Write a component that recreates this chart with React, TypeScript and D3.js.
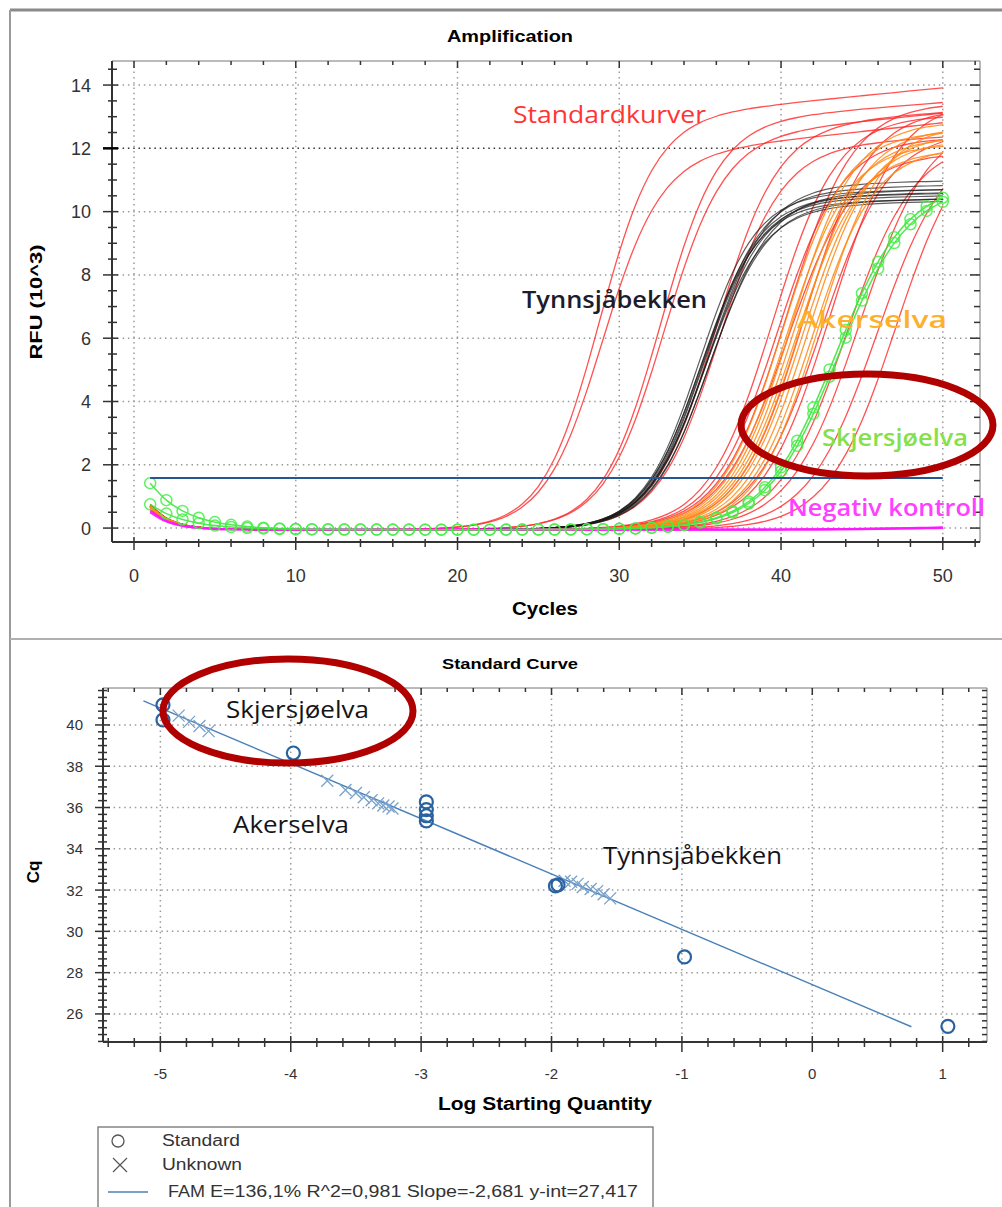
import * as d3 from "d3";

// amplification plot: cycle numbers and RFU axis
const cycles = d3.range(1, 51);
const rfuTicks = [0, 2, 4, 6, 8, 10, 12, 14];
const cycleTicks = [0, 10, 20, 30, 40, 50];
const threshold = 1.58;

// each curve: [midpoint cycle, steepness, plateau (10^3 RFU), late drift, RFU at cycle 1]
const standardCurves = [
  [28.74, 1.75, 12.9, 0.05, 0.75],
  [28.94, 1.8, 11.7, 0.055, 0.7],
  [32.53, 1.8, 12.8, 0.04, 0.72],
  [32.74, 1.85, 12.3, 0.05, 0.65],
  [36.0, 1.9, 12.7, 0.035, 0.7],
  [36.18, 1.9, 12.0, 0.03, 0.6],
  [39.47, 2.0, 13.1, 0, 0.7],
  [39.75, 2.0, 12.4, 0, 0.65],
  [40.34, 2.05, 13.5, 0, 0.72],
  [40.35, 2.05, 11.9, 0, 0.6],
  [41.41, 2.0, 13.3, 0, 0.7],
  [42.48, 2.1, 12.6, 0, 0.62],
  [43.06, 2.1, 13.6, 0, 0.7],
  [44.02, 2.1, 12.3, 0, 0.66],
  [44.85, 2.15, 13.0, 0, 0.7],
  [45.94, 2.15, 12.4, 0, 0.6],
  [47.1, 2.1, 12.8, 0, 0.68],
];
const tynnsjaCurves = [
  [34.95, 1.75, 10.6, 0.01, 0.7],
  [35.05, 1.78, 10.3, 0.01, 0.65],
  [35.1, 1.8, 10.5, 0.008, 0.7],
  [35.2, 1.76, 10.4, 0.01, 0.6],
  [35.25, 1.8, 10.7, 0.012, 0.7],
  [35.3, 1.82, 10.2, 0.012, 0.65],
  [35.4, 1.8, 10.5, 0.01, 0.7],
  [35.5, 1.85, 10.9, 0.008, 0.6],
  [35.55, 1.8, 10.3, 0.01, 0.65],
  [35.65, 1.85, 10.6, 0.01, 0.7],
];
const akerselvaCurves = [
  [40.09, 1.95, 12.6, 0, 0.7],
  [40.32, 1.95, 12.2, 0, 0.65],
  [40.64, 1.95, 12.9, 0, 0.7],
  [40.75, 1.95, 12.4, 0, 0.6],
  [40.88, 1.95, 12.0, 0, 0.7],
  [41.2, 1.95, 12.7, 0, 0.65],
  [41.33, 1.95, 12.3, 0, 0.7],
  [41.67, 1.95, 12.5, 0, 0.6],
  [41.9, 1.95, 12.1, 0, 0.68],
  [42.32, 1.95, 12.8, 0, 0.65],
];
const skjersjoCurves = [
  [43.35, 2.2, 11.0, 0, 1.42],
  [43.5, 2.2, 10.9, 0, 0.75],
];
const negativeCurves = [
  [49.0, 3.0, 0.12, 0, 0.55],
  [49.5, 3.0, 0.1, 0, 0.5],
];

// standard curve plot
const cqTicks = [26, 28, 30, 32, 34, 36, 38, 40];
const logTicks = [-5, -4, -3, -2, -1, 0, 1];
const standardPoints = [
  [-4.98, 40.97], [-4.98, 40.24], [-3.98, 38.64],
  [-2.96, 36.27], [-2.96, 35.9], [-2.96, 35.6], [-2.96, 35.35],
  [-1.97, 32.2], [-1.95, 32.25], [-0.98, 28.76], [1.04, 25.4],
];
const unknownSkjersjo = [[-4.86, 40.45], [-4.78, 40.15], [-4.7, 39.95], [-4.63, 39.7]];
const unknownAkerselva = [
  [-3.72, 37.3], [-3.58, 36.85], [-3.5, 36.7], [-3.44, 36.5], [-3.38, 36.35],
  [-3.33, 36.2], [-3.29, 36.1], [-3.25, 36.05], [-3.22, 35.95],
];
const unknownTynnsja = [
  [-1.9, 32.45], [-1.85, 32.4], [-1.8, 32.3], [-1.76, 32.15], [-1.7, 32.05],
  [-1.65, 31.95], [-1.6, 31.8], [-1.55, 31.6],
];
const fitSlope = -2.681;
const fitIntercept = 27.417;
const fitRange = [-5.13, 0.76];

const W = 1002;
const H = 1207;

const xA = d3.scaleLinear().domain([-1.36, 52.3]).range([112, 980]);
const yA = d3.scaleLinear().domain([-0.44, 14.76]).range([542, 61]);
const xS = d3.scaleLinear().domain([-5.44, 1.34]).range([103, 987]);
const yS = d3.scaleLinear().domain([24.64, 41.79]).range([1042, 688]);

function rfu(c: number, p: number[], tau: number) {
  const [m, s, plateau, drift, b0] = p;
  const base = (b0 + 0.05) * Math.exp(-(c - 1) / tau) - 0.05;
  const amp = plateau / (1 + Math.exp(-(c - m) / s));
  const late = drift * s * Math.log1p(Math.exp((c - m) / s));
  return base + amp + late;
}

const ampLine = d3
  .line<number[]>()
  .x((d) => xA(d[0]))
  .y((d) => yA(d[1]))
  .curve(d3.curveMonotoneX);

const pts = (p: number[], tau = 1.3) => cycles.map((c) => [c, rfu(c, p, tau)]);

const font = "'Liberation Sans', Arial, sans-serif";
const noteFont = "'Open Sans', 'Noto Sans', sans-serif";

function minorRange(a: number, b: number, step: number, major: number[]) {
  const out: number[] = [];
  for (let i = Math.ceil(a / step); i * step <= b; i++) {
    const v = +(i * step).toFixed(4);
    if (!major.some((m) => Math.abs(m - v) < 1e-6)) out.push(v);
  }
  return out;
}

function Curves({ data, color, width, opacity, tau = 1.3 }: any) {
  return (
    <g fill="none" stroke={color} strokeWidth={width} strokeOpacity={opacity}>
      {data.map((p: number[], i: number) => (
        <path key={i} d={ampLine(pts(p, tau)) || ""} />
      ))}
    </g>
  );
}

function Note({ x, y, text, len, color, size, weight = 400 }: any) {
  return (
    <text
      x={x}
      y={y}
      fill={color}
      fontSize={size}
      fontWeight={weight}
      fontFamily={noteFont}
      textLength={len}
      lengthAdjust="spacingAndGlyphs"
    >
      {text}
    </text>
  );
}

export default function App() {
  const rfuMinor = minorRange(-0.44, 14.76, 0.5, rfuTicks);
  const cycMinor = minorRange(-1.36, 52.3, 2, cycleTicks);
  const cqMinor = minorRange(24.64, 41.79, 1 / 3, cqTicks);
  const logMinor = minorRange(-5.44, 1.34, 0.2, logTicks);

  const fitY = (x: number) => fitSlope * x + fitIntercept;

  return (
    <svg width={W} height={H} style={{ position: "absolute", left: 0, top: 0 }}>
      <rect width={W} height={H} fill="#fff" />
      {/* panel frames */}
      <line x1={10} x2={W} y1={10} y2={10} stroke="#8a8a8a" strokeWidth={3} />
      <line x1={10} x2={10} y1={10} y2={H} stroke="#9a9a9a" strokeWidth={2} />
      <line x1={10} x2={W} y1={639} y2={639} stroke="#b0b0b0" strokeWidth={2} />

      {/* ===== Amplification ===== */}
      <text x={510} y={42} textAnchor="middle" fontFamily={font} fontWeight="bold" fontSize={16} textLength={126} lengthAdjust="spacingAndGlyphs">
        Amplification
      </text>
      <g stroke="#9a9a9a" strokeWidth={1.5} strokeDasharray="1.5,3.8">
        {rfuTicks.map((t) => (
          <line key={t} x1={112} x2={980} y1={yA(t)} y2={yA(t)} stroke={t === 12 ? "#333" : "#9a9a9a"} />
        ))}
        {cycleTicks.map((t) => (
          <line key={t} x1={xA(t)} x2={xA(t)} y1={61} y2={542} />
        ))}
      </g>

      <Curves data={standardCurves} color="#ff2626" width={1.3} opacity={0.8} />
      <Curves data={tynnsjaCurves} color="#1a1a1a" width={1.2} opacity={0.7} />
      <Curves data={akerselvaCurves} color="#ff8a14" width={1.3} opacity={0.85} />
      <Curves data={negativeCurves} color="#ff14ff" width={2.2} opacity={0.9} />
      <Curves data={skjersjoCurves} color="#3ee63e" width={1.5} opacity={0.9} tau={2.2} />
      <g fill="none" stroke="#44ee44" strokeWidth={1.5} strokeOpacity={0.85}>
        {skjersjoCurves.map((p, i) =>
          pts(p, 2.2).map((d) => <circle key={i + "-" + d[0]} cx={xA(d[0])} cy={yA(d[1])} r={5.5} />)
        )}
      </g>
      <line x1={xA(1)} x2={xA(50)} y1={yA(threshold)} y2={yA(threshold)} stroke="#24578f" strokeWidth={2} />

      {/* axes */}
      <line x1={112} x2={980} y1={61} y2={61} stroke="#777" strokeWidth={1} />
      <line x1={980} x2={980} y1={61} y2={542} stroke="#777" strokeWidth={1} />
      <line x1={112} x2={112} y1={61} y2={542} stroke="#333" strokeWidth={2} />
      <line x1={112} x2={980} y1={542} y2={542} stroke="#333" strokeWidth={2} />
      <g stroke="#333" strokeWidth={1.5}>
        {rfuTicks.map((t) => (
          <g key={t}>
            <line x1={103} x2={118} y1={yA(t)} y2={yA(t)} strokeWidth={t === 12 ? 2.5 : 1.5} stroke={t === 12 ? "#000" : "#333"} />
            <line x1={970} x2={980} y1={yA(t)} y2={yA(t)} />
          </g>
        ))}
        {rfuMinor.map((t) => (
          <g key={t}>
            <line x1={108} x2={117} y1={yA(t)} y2={yA(t)} />
            <line x1={974} x2={980} y1={yA(t)} y2={yA(t)} />
          </g>
        ))}
        {cycleTicks.map((t) => (
          <g key={t}>
            <line x1={xA(t)} x2={xA(t)} y1={537} y2={550} />
            <line x1={xA(t)} x2={xA(t)} y1={61} y2={68} />
          </g>
        ))}
        {cycMinor.map((t) => (
          <g key={t}>
            <line x1={xA(t)} x2={xA(t)} y1={539} y2={547} />
            <line x1={xA(t)} x2={xA(t)} y1={61} y2={65} />
          </g>
        ))}
      </g>
      <g fontFamily={font} fontSize={18} fill="#333">
        {rfuTicks.map((t) => (
          <text key={t} x={91} y={yA(t) + 6.5} textAnchor="end">{t}</text>
        ))}
        {cycleTicks.map((t) => (
          <text key={t} x={xA(t)} y={582} textAnchor="middle">{t}</text>
        ))}
      </g>
      <text x={545} y={615} textAnchor="middle" fontFamily={font} fontWeight="bold" fontSize={19} textLength={66} lengthAdjust="spacingAndGlyphs">
        Cycles
      </text>
      <text transform="translate(42,302) rotate(-90)" textAnchor="middle" fontFamily={font} fontWeight="bold" fontSize={17} textLength={115} lengthAdjust="spacingAndGlyphs">
        RFU (10^3)
      </text>

      <Note x={513} y={123} text="Standardkurver" len={193} color="#ff3434" size={23} />
      <Note x={522} y={308} text="Tynnsjåbekken" len={185} color="#1c1c2c" size={23} weight={600} />
      <Note x={797} y={328} text="Akerselva" len={150} color="#ffb02a" size={23} weight={600} />
      <Note x={822} y={446} text="Skjersjøelva" len={146} color="#86e04a" size={23} weight={600} />
      <Note x={788} y={516} text="Negativ kontroll" len={197} color="#ff40ff" size={23} weight={600} />
      <ellipse cx={867} cy={425} rx={126} ry={51} fill="none" stroke="#b00000" strokeWidth={7} />

      {/* ===== Standard Curve ===== */}
      <text x={510} y={669} textAnchor="middle" fontFamily={font} fontWeight="bold" fontSize={14} textLength={136} lengthAdjust="spacingAndGlyphs">
        Standard Curve
      </text>
      <g stroke="#9a9a9a" strokeWidth={1.5} strokeDasharray="1.5,3.8">
        {cqTicks.map((t) => (
          <line key={t} x1={103} x2={987} y1={yS(t)} y2={yS(t)} />
        ))}
        {logTicks.map((t) => (
          <line key={t} x1={xS(t)} x2={xS(t)} y1={688} y2={1042} />
        ))}
      </g>

      <line
        x1={xS(fitRange[0])}
        x2={xS(fitRange[1])}
        y1={yS(fitY(fitRange[0]))}
        y2={yS(fitY(fitRange[1]))}
        stroke="#4a80b8"
        strokeWidth={1.4}
      />
      <g fill="none" stroke="#7aa2ca" strokeWidth={1.3}>
        {[...unknownSkjersjo, ...unknownAkerselva, ...unknownTynnsja].map((d, i) => (
          <path key={i} transform={`translate(${xS(d[0])},${yS(d[1])})`} d="M-6,-6L6,6M-6,6L6,-6" />
        ))}
      </g>
      <g fill="none" stroke="#2a62a0" strokeWidth={2.2}>
        {standardPoints.map((d, i) => (
          <circle key={i} cx={xS(d[0])} cy={yS(d[1])} r={6.5} />
        ))}
      </g>

      <line x1={103} x2={987} y1={688} y2={688} stroke="#777" strokeWidth={1} />
      <line x1={987} x2={987} y1={688} y2={1042} stroke="#777" strokeWidth={1} />
      <line x1={103} x2={103} y1={688} y2={1042} stroke="#333" strokeWidth={2} />
      <line x1={103} x2={987} y1={1042} y2={1042} stroke="#333" strokeWidth={2} />
      <g stroke="#333" strokeWidth={1.5}>
        {cqTicks.map((t) => (
          <g key={t}>
            <line x1={95} x2={110} y1={yS(t)} y2={yS(t)} />
            <line x1={979} x2={987} y1={yS(t)} y2={yS(t)} />
          </g>
        ))}
        {cqMinor.map((t) => (
          <g key={t}>
            <line x1={98} x2={107} y1={yS(t)} y2={yS(t)} />
            <line x1={982} x2={987} y1={yS(t)} y2={yS(t)} />
          </g>
        ))}
        {logTicks.map((t) => (
          <g key={t}>
            <line x1={xS(t)} x2={xS(t)} y1={1036} y2={1052} />
            <line x1={xS(t)} x2={xS(t)} y1={688} y2={695} />
          </g>
        ))}
        {logMinor.map((t) => (
          <g key={t}>
            <line x1={xS(t)} x2={xS(t)} y1={1038} y2={1047} />
            <line x1={xS(t)} x2={xS(t)} y1={688} y2={692} />
          </g>
        ))}
      </g>
      <g fontFamily={font} fontSize={15} fill="#333">
        {cqTicks.map((t) => (
          <text key={t} x={83} y={yS(t) + 5.5} textAnchor="end">{t}</text>
        ))}
        {logTicks.map((t) => (
          <text key={t} x={xS(t)} y={1079} textAnchor="middle">{String(t)}</text>
        ))}
      </g>
      <text x={545} y={1110} textAnchor="middle" fontFamily={font} fontWeight="bold" fontSize={18} textLength={214} lengthAdjust="spacingAndGlyphs">
        Log Starting Quantity
      </text>
      <text transform="translate(39,872) rotate(-90)" textAnchor="middle" fontFamily={font} fontWeight="bold" fontSize={17}>
        Cq
      </text>

      <Note x={226} y={718} text="Skjersjøelva" len={143} color="#141418" size={24} />
      <Note x={233} y={833} text="Akerselva" len={116} color="#141418" size={24} />
      <Note x={603} y={864} text="Tynnsjåbekken" len={179} color="#141418" size={24} />
      <ellipse cx={288} cy={711} rx={125} ry={52} fill="none" stroke="#b00000" strokeWidth={7} />

      {/* legend */}
      <rect x={98} y={1127} width={555} height={95} fill="#fff" stroke="#666" strokeWidth={1.2} />
      <circle cx={118} cy={1141} r={6} fill="none" stroke="#555" strokeWidth={1.3} />
      <path transform="translate(120,1165)" d="M-7,-7L7,7M-7,7L7,-7" stroke="#555" strokeWidth={1.2} fill="none" />
      <line x1={108} x2={148} y1={1192} y2={1192} stroke="#4a80b8" strokeWidth={1.5} />
      <g fontFamily={font} fontSize={16} fill="#333">
        <text x={162} y={1146} textLength={78} lengthAdjust="spacingAndGlyphs">Standard</text>
        <text x={162} y={1170} textLength={80} lengthAdjust="spacingAndGlyphs">Unknown</text>
        <text x={168} y={1197} textLength={37} lengthAdjust="spacingAndGlyphs">FAM</text>
        <text x={210} y={1197} textLength={428} lengthAdjust="spacingAndGlyphs">
          E=136,1% R^2=0,981 Slope=-2,681 y-int=27,417
        </text>
      </g>
    </svg>
  );
}
